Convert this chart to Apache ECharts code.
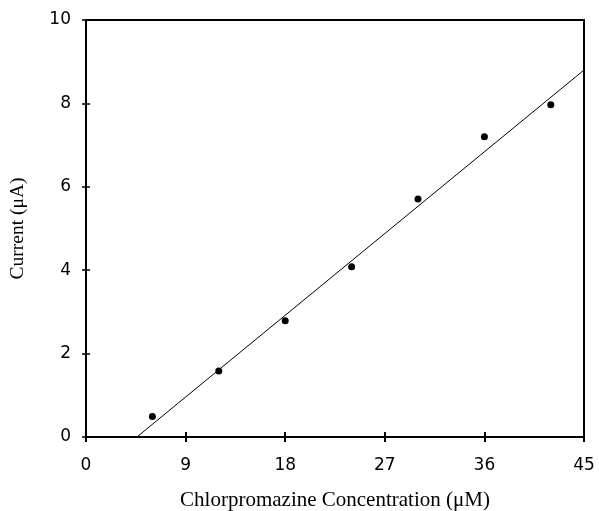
<!DOCTYPE html>
<html><head><meta charset="utf-8">
<script src="https://cdn.jsdelivr.net/npm/echarts@6/dist/echarts.min.js"></script>
<style>html,body{margin:0;padding:0;background:#fff}#c{width:599px;height:511px}</style>
</head><body><div id="c"></div>
<script>
const concentration = [6, 12, 18, 24, 30, 36, 42];
const current = [0.49, 1.58, 2.79, 4.08, 5.71, 7.2, 7.97];
const fitX = [4.6, 45];
const fitY = [0, 8.8];
const xTicks = [0, 9, 18, 27, 36, 45];
const yTicks = [0, 2, 4, 6, 8, 10];

const chart = echarts.init(document.getElementById('c'));
const grid = {left: 86, right: 15, top: 20, bottom: 74, show: true, borderColor: '#000', borderWidth: 2,
  containLabel: false, outerBoundsMode: 'none'};
const labelFont = {fontFamily: 'DejaVu Sans', fontSize: 17, color: '#000'};
const baseX = {type: 'value', min: 0, max: 45, interval: 9, splitLine: {show: false}};
const baseY = {type: 'value', min: 0, max: 10, interval: 2, splitLine: {show: false}};
chart.setOption({
  animation: false,
  grid: grid,
  xAxis: [
    Object.assign({}, baseX, {
      name: 'Chlorpromazine Concentration (\u03bcM)', nameLocation: 'middle', nameGap: 53,
      nameTextStyle: {fontFamily: 'Liberation Serif', fontSize: 21, color: '#000'},
      axisLine: {lineStyle: {color: '#000', width: 2}},
      axisTick: {show: true, length: 5, lineStyle: {color: '#000', width: 2}},
      axisLabel: Object.assign({margin: 20, formatter: v => xTicks.includes(v) ? String(v) : ''}, labelFont)
    }),
    Object.assign({}, baseX, {
      position: 'bottom', axisLine: {show: false}, axisLabel: {show: false},
      axisTick: {show: true, inside: true, length: 5, lineStyle: {color: '#000', width: 2}}
    })
  ],
  yAxis: [
    Object.assign({}, baseY, {
      name: 'Current (\u03bcA)', nameLocation: 'middle', nameGap: 58,
      nameTextStyle: {fontFamily: 'Liberation Serif', fontSize: 19.5, color: '#000'},
      axisLine: {lineStyle: {color: '#000', width: 2}},
      axisTick: {show: true, length: 4, lineStyle: {color: '#000', width: 1.5}},
      axisLabel: Object.assign({margin: 15, formatter: v => yTicks.includes(v) ? String(v) : ''}, labelFont)
    }),
    Object.assign({}, baseY, {
      position: 'left', axisLine: {show: false}, axisLabel: {show: false},
      axisTick: {show: true, inside: true, length: 4, lineStyle: {color: '#000', width: 1.5}}
    })
  ],
  series: [
    {type: 'line', xAxisIndex: 0, yAxisIndex: 0, data: fitX.map((x, i) => [x, fitY[i]]),
     symbol: 'none', lineStyle: {color: '#000', width: 1}},
    {type: 'scatter', xAxisIndex: 0, yAxisIndex: 0, data: concentration.map((x, i) => [x, current[i]]),
     symbol: 'circle', symbolSize: 7, itemStyle: {color: '#000', opacity: 1}}
  ]
});
</script></body></html>
